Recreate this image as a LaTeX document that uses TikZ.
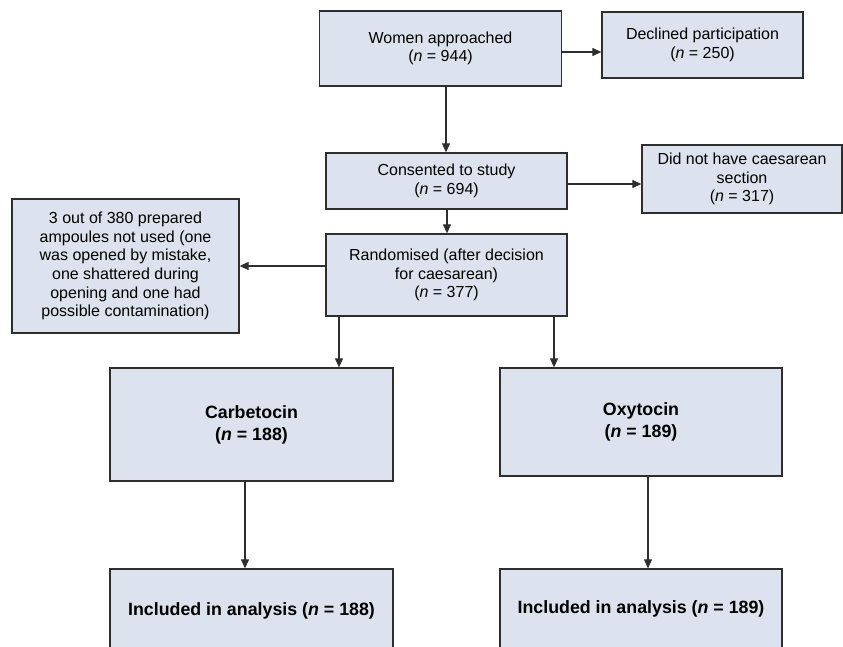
\documentclass[tikz,border=0pt]{standalone}
\usepackage{fontspec}
\setmainfont{Liberation Sans}
\usetikzlibrary{arrows.meta}
\definecolor{boxfill}{HTML}{DCE3EE}
\definecolor{edge}{HTML}{2E2E2E}
\begin{document}
\begin{tikzpicture}[x=1pt,y=-1pt,
 box/.style={draw=edge, line width=1.3pt, fill=boxfill, rectangle, inner sep=0pt, align=center, font=\fontsize{16}{18.7}\selectfont},
 bbox/.style={box, font=\fontsize{17.8}{22}\selectfont\bfseries},
 arr/.style={draw=edge, line width=1.1pt, -{Triangle[length=9pt,width=8pt]}}]
\useasboundingbox (0,0) rectangle (843,646);
\clip (0,0) rectangle (843,646);
\node[box, minimum width=242.5pt, minimum height=75pt] (A) at (440.5,48.5) {Women approached\\(\textit{n} = 944)};
\node[box, minimum width=201pt, minimum height=66pt] (B) at (702.5,45) {Declined participation\\(\textit{n} = 250)};
\node[box, minimum width=241pt, minimum height=56pt] (C) at (446.5,181) {Consented to study\\(\textit{n} = 694)};
\node[box, minimum width=200pt, minimum height=68pt] (D) at (742,179) {Did not have caesarean\\section\\(\textit{n} = 317)};
\node[box, minimum width=241pt, minimum height=82pt] (E) at (446.5,275) {Randomised (after decision\\for caesarean)\\(\textit{n} = 377)};
\node[box, minimum width=227pt, minimum height=134pt] (F) at (125.5,266) {3 out of 380 prepared\\ampoules not used (one\\was opened by mistake,\\one shattered during\\opening and one had\\possible contamination)};
\node[bbox, minimum width=283pt, minimum height=113pt] (G) at (251.5,424.5) {Carbetocin\\(\textit{n} = 188)};
\node[bbox, minimum width=283pt, minimum height=84pt] (H) at (251.5,611) {Included in analysis (\textit{n} = 188)};
\node[bbox, minimum width=282pt, minimum height=108pt] (I) at (641,422) {Oxytocin\\(\textit{n} = 189)};
\node[bbox, minimum width=282pt, minimum height=80pt] (J) at (641,609) {Included in analysis (\textit{n} = 189)};
\draw[arr] ([yshift=-3.5pt]A.east) -- ([yshift=-7pt]B.west);
\draw[arr] ([xshift=5.5pt]A.south) -- ([xshift=-0.5pt]C.north);
\draw[arr] ([yshift=-3pt]C.east) -- ([yshift=-5pt]D.west);
\draw[arr] ([xshift=0.5pt]C.south) -- ([xshift=0.5pt]E.north);
\draw[arr] ([yshift=9pt]E.west) -- (F.east);
\draw[arr] ([xshift=-107.5pt]E.south) -- ([xshift=87.5pt]G.north);
\draw[arr] ([xshift=107.5pt]E.south) -- ([xshift=-87pt]I.north);
\draw[arr] ([xshift=-6.5pt]G.south) -- ([xshift=-6.5pt]H.north);
\draw[arr] ([xshift=7pt]I.south) -- ([xshift=7pt]J.north);
\end{tikzpicture}
\end{document}
